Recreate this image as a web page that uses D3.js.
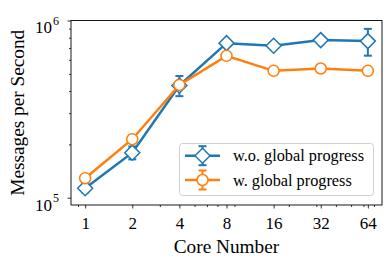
<!DOCTYPE html>
<html>
<head>
<meta charset="utf-8">
<script src="https://cdn.jsdelivr.net/npm/d3@7"></script>
<style>
  body { margin: 0; background: #fff; }
  svg text { font-family: "Liberation Serif", "Times New Roman", serif; fill: #000; }
</style>
</head>
<body>
<div id="graph"></div>
<script>
const cores = [1, 2, 4, 8, 16, 32, 64];
const woGlobal = [113000, 179500, 430000, 745000, 720000, 775000, 765000];
const woGlobalErr = [6000, 15000, 56000, 12000, 10000, 12000, 132000];
const wGlobal = [128800, 213800, 433000, 632000, 520000, 536000, 520000];
const wGlobalErr = [3000, 6000, 8000, 8000, 6000, 6000, 6000];
const xMinor = [0.9, 3, 5, 6, 7, 9, 20, 30, 40, 50, 60, 70];
const yMinor = [200000, 300000, 400000, 500000, 600000, 700000, 800000, 900000];
const yMajor = [100000, 1000000];
const seriesNames = ["w.o. global progress", "w. global progress"];

const W = 391, H = 266;
const svg = d3.select("#graph").append("svg").attr("width", W).attr("height", H);

const margin = {top: 20.5, right: 9, bottom: 61, left: 71};
const x = d3.scaleLog().base(2).domain([0.812, 78.8]).range([margin.left, W - margin.right]);
const y = d3.scaleLog().domain([90950, 1e6]).range([H - margin.bottom, margin.top]);

const blue = "#1f77b4", orange = "#ff7f0e";

// minor ticks
svg.append("g")
  .attr("transform", "translate(0," + y.range()[0] + ")")
  .call(d3.axisBottom(x).tickValues(xMinor).tickSize(2).tickFormat(""))
  .call(g => g.select(".domain").remove());
svg.append("g")
  .attr("transform", "translate(" + x.range()[0] + ",0)")
  .call(d3.axisLeft(y).tickValues(yMinor).tickSize(2).tickFormat(""))
  .call(g => g.select(".domain").remove());

// major ticks
const xAxis = svg.append("g")
  .attr("transform", "translate(0," + y.range()[0] + ")")
  .call(d3.axisBottom(x).tickValues(cores).tickSize(3.5).tickFormat(d3.format("d")));
xAxis.select(".domain").remove();
xAxis.selectAll("text").attr("y", 24.3).attr("dy", 0)
  .style("font-size", "17px").attr("fill", "#000");

const yAxis = svg.append("g")
  .attr("transform", "translate(" + x.range()[0] + ",0)")
  .call(d3.axisLeft(y).tickValues(yMajor).tickSize(3.5).tickFormat(""));
yAxis.select(".domain").remove();
yAxis.selectAll(".tick").append("text")
  .attr("x", -19).attr("y", 12.3)
  .attr("text-anchor", "end")
  .style("font-size", "17px")
  .text("10");
yAxis.selectAll(".tick").append("text")
  .attr("x", -18).attr("y", 4)
  .attr("text-anchor", "start")
  .style("font-size", "12px")
  .text(d => Math.round(Math.log10(d)));

svg.selectAll(".tick line").attr("stroke", "#000").attr("stroke-width", 0.8);

// frame
svg.append("rect")
  .attr("x", x.range()[0]).attr("y", y.range()[1])
  .attr("width", x.range()[1] - x.range()[0])
  .attr("height", y.range()[0] - y.range()[1])
  .attr("fill", "none").attr("stroke", "#000").attr("stroke-width", 0.9);

// axis labels
svg.append("text")
  .attr("x", (x.range()[0] + x.range()[1]) / 2).attr("y", 253)
  .attr("text-anchor", "middle").style("font-size", "19.3px")
  .text("Core Number");
svg.append("text")
  .attr("transform", "translate(23.5," + ((y.range()[0] + y.range()[1]) / 2) + ") rotate(-90)")
  .attr("text-anchor", "middle").style("font-size", "19.3px")
  .text("Messages per Second");

const line = d3.line().x(d => x(d[0])).y(d => y(d[1]));

function drawSeries(vals, errs, color, marker) {
  const pts = cores.map((c, i) => [c, vals[i], errs[i]]);
  const g = svg.append("g");
  g.append("path").datum(pts).attr("d", line)
    .attr("fill", "none").attr("stroke", color).attr("stroke-width", 2.5);
  const eb = g.selectAll(".eb").data(pts).enter().append("g");
  eb.append("line")
    .attr("x1", d => x(d[0])).attr("x2", d => x(d[0]))
    .attr("y1", d => y(d[1] - d[2])).attr("y2", d => y(d[1] + d[2]))
    .attr("stroke", color).attr("stroke-width", 2);
  [-1, 1].forEach(s => {
    eb.append("line")
      .attr("x1", d => x(d[0]) - 4).attr("x2", d => x(d[0]) + 4)
      .attr("y1", d => y(d[1] + s * d[2])).attr("y2", d => y(d[1] + s * d[2]))
      .attr("stroke", color).attr("stroke-width", 2);
  });
  g.selectAll(".mk").data(pts).enter().append("path")
    .attr("d", marker)
    .attr("transform", d => "translate(" + x(d[0]) + "," + y(d[1]) + ")")
    .attr("fill", "#fff").attr("stroke", color).attr("stroke-width", 1.5);
}

const diamond = "M0,-7.5L7.5,0L0,7.5L-7.5,0Z";
const circle = d3.symbol().type(d3.symbolCircle).size(Math.PI * 5.5 * 5.5)();

drawSeries(woGlobal, woGlobalErr, blue, diamond);
drawSeries(wGlobal, wGlobalErr, orange, circle);

// legend
const lg = svg.append("g");
lg.append("rect")
  .attr("x", 179.5).attr("y", 143.5).attr("width", 194).attr("height", 52)
  .attr("rx", 3).attr("fill", "#fff").attr("fill-opacity", 0.8)
  .attr("stroke", "#d0d0d0").attr("stroke-width", 1);
[[blue, diamond, 155.7], [orange, circle, 180]].forEach((e, i) => {
  const [c, m, yy] = e;
  lg.append("line").attr("x1", 185).attr("x2", 220).attr("y1", yy).attr("y2", yy)
    .attr("stroke", c).attr("stroke-width", 2.5);
  lg.append("line").attr("x1", 202.5).attr("x2", 202.5).attr("y1", yy - 9.5).attr("y2", yy + 9.5)
    .attr("stroke", c).attr("stroke-width", 2);
  [-9.5, 9.5].forEach(o => lg.append("line")
    .attr("x1", 198.5).attr("x2", 206.5).attr("y1", yy + o).attr("y2", yy + o)
    .attr("stroke", c).attr("stroke-width", 2));
  lg.append("path").attr("d", m).attr("transform", "translate(202.5," + yy + ")")
    .attr("fill", "#fff").attr("stroke", c).attr("stroke-width", 1.5);
  lg.append("text").attr("x", 233).attr("y", yy + 5.5).style("font-size", "16.3px")
    .text(seriesNames[i]);
});
</script>
</body>
</html>
